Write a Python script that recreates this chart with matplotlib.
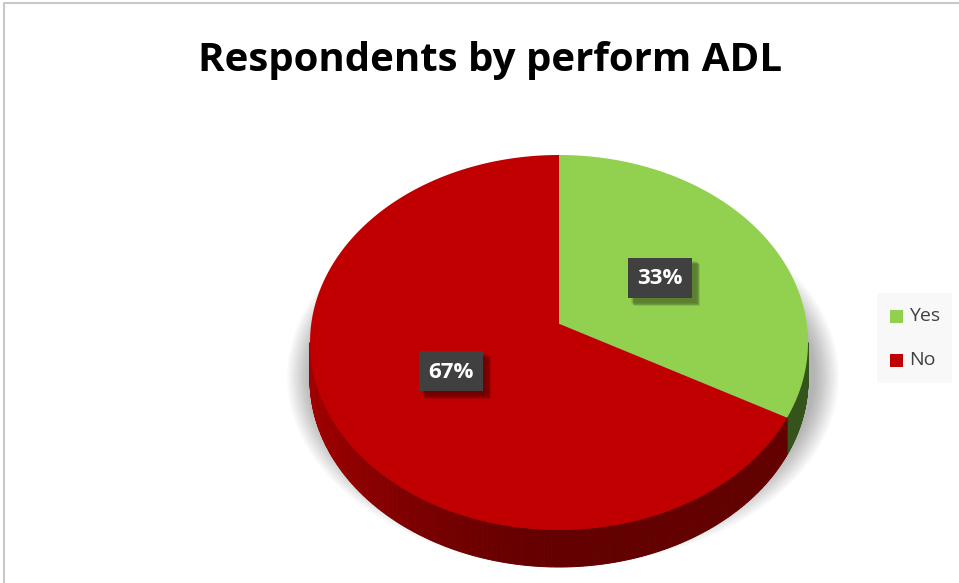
import numpy as np
import matplotlib.pyplot as plt
from matplotlib.patches import Polygon, Rectangle, Ellipse

# data
labels = ['Yes', 'No']
values = [33, 67]
top_colors = ['#92d050', '#c00000']
side_colors = [(0.26, 0.42, 0.14), (0.50, 0.0, 0.0)]
pct_labels = ['33%', '67%']

W, H = 959, 583
fig = plt.figure(figsize=(W / 100, H / 100), dpi=100)
ax = fig.add_axes([0, 0, 1, 1])
ax.set_xlim(0, W)
ax.set_ylim(H, 0)
ax.axis('off')

# chart frame
ax.plot([4, 4, W], [H, 3, 3], color='#c8c8c8', lw=1.5)

# pie placement (pixels) and perspective strength
x0, x1, y0, y1, depth, persp = 310, 808, 155, 530, 37, 0.10


def raw(phi):
    # phi measured clockwise from 12 o'clock, v>0 toward viewer
    u, v = np.sin(phi), -np.cos(phi)
    w = 1 - persp * v
    return u / w, v / w


_ph = np.linspace(0, 2 * np.pi, 4000)
_X, _Y = raw(_ph)
Xmin, Xmax, Ymin, Ymax = _X.min(), _X.max(), _Y.min(), _Y.max()
phi_R = _ph[np.argmax(_X)]
phi_L = _ph[np.argmin(_X)]


def pt(phi, dy=0):
    X, Y = raw(phi)
    return (x0 + (X - Xmin) / (Xmax - Xmin) * (x1 - x0),
            y0 + (Y - Ymin) / (Ymax - Ymin) * (y1 - y0) + dy)


# centre of the pie under perspective
cx = x0 + (0 - Xmin) / (Xmax - Xmin) * (x1 - x0)
cy = y0 + (0 - Ymin) / (Ymax - Ymin) * (y1 - y0)

# soft shadow below the pie
mx = (x0 + x1) / 2
for i in range(16):
    ax.add_patch(Ellipse((mx + 4, cy + depth + 16), (x1 - x0) + 6 + i * 3.2, (y1 - y0) * 0.88 + i * 3.2,
                         color='black', alpha=0.02, lw=0, zorder=1))

fr = np.array(values) / sum(values)
starts = 2 * np.pi * np.concatenate([[0], np.cumsum(fr)[:-1]])
ends = starts + 2 * np.pi * fr

# side walls (front arc only)
for s, e, sc in zip(starts, ends, side_colors):
    ts = np.linspace(s, e, 500)
    for a, b in zip(ts[:-1], ts[1:]):
        m = (a + b) / 2
        if m < phi_R or m > phi_L:
            continue
        xa, ya = pt(a)
        xb, yb = pt(b)
        # lighter toward the left, darkest at the front/right
        shade = 0.78 + 0.5 * max(0, -np.sin(m)) ** 1.5
        col = tuple(min(1, c * shade) for c in sc)
        ax.add_patch(Polygon([(xa, ya), (xb, yb), (xb, yb + depth), (xa, ya + depth)],
                             closed=True, color=col, lw=0.7, zorder=2))

# top faces
for s, e, tc in zip(starts, ends, top_colors):
    ts = np.linspace(s, e, 300)
    xs, ys = pt(ts)
    poly = [(cx, cy)] + list(zip(xs, ys))
    ax.add_patch(Polygon(poly, closed=True, color=tc, lw=0, zorder=3))

# data labels
label_pos = [(660, 278), (451, 371)]
for (lx, ly), txt in zip(label_pos, pct_labels):
    bw, bh = 64, 40
    for k in range(5):
        ax.add_patch(Rectangle((lx - bw / 2 + 3 + k * 0.8, ly - bh / 2 + 3 + k * 0.8), bw + 2, bh + 2,
                               color='black', alpha=0.09, lw=0, zorder=4))
    ax.add_patch(Rectangle((lx - bw / 2, ly - bh / 2), bw, bh,
                           color='#404040', lw=0, zorder=5))
    ax.text(lx, ly + 1, txt, color='white', fontsize=16, fontweight='bold',
            family='Open Sans', ha='center', va='center', zorder=6)

# legend
ax.add_patch(Rectangle((877, 293), 75, 90, color='#f8f8f8', lw=0, zorder=1))
for i, (lab, tc) in enumerate(zip(labels, top_colors)):
    ly = 316 + i * 44
    ax.add_patch(Rectangle((890, ly - 6), 13, 13, color=tc, lw=0, zorder=2))
    ax.text(909, ly, lab, fontsize=14, family='Open Sans', color='#404040',
            va='center', ha='left', zorder=2)

ax.text(490, 60, 'Respondents by perform ADL', fontsize=29, fontweight='bold',
        family='Open Sans', ha='center', va='center')

fig.savefig('out.png', dpi=100)
